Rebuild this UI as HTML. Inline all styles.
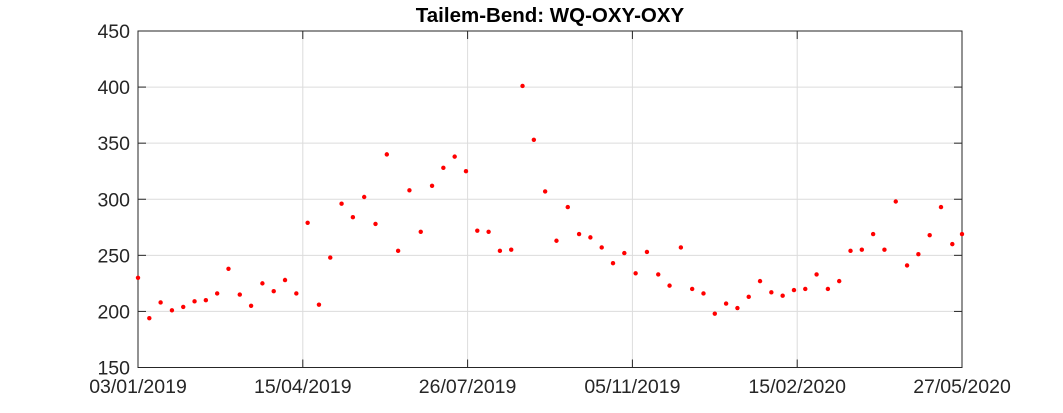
<!DOCTYPE html>
<html><head><meta charset="utf-8"><style>
body{margin:0;background:#fff;}
svg{display:block;font-family:"Liberation Sans",Arial,sans-serif;}
</style></head><body>
<svg id="chart" width="1063" height="413">
<rect x="0" y="0" width="1063" height="413" fill="#fff"/>
<text x="550" y="22" text-anchor="middle" font-size="20.5" font-weight="bold" fill="#000">Tailem-Bend: WQ-OXY-OXY</text>
<g id="grid"></g><g id="axes"></g><g id="points"></g>
</svg>
<script>
const xTickLabels=["03/01/2019","15/04/2019","26/07/2019","05/11/2019","15/02/2020","27/05/2020"];
const xTickDays=[0,102,204,306,408,510];
const yTicks=[150,200,250,300,350,400,450];
const dayOffsets=[0,7,14,21,28,35,42,49,56,63,70,77,84,91,98,105,112,119,126,133,140,147,154,161,168,175,182,189,196,203,210,217,224,231,238,245,252,259,266,273,280,287,294,301,308,315,322,329,336,343,350,357,364,371,378,385,392,399,406,413,420,427,434,441,448,455,462,469,476,483,490,497,504,510];
const values=[230,194,208,201,204,209,210,216,238,215,205,225,218,228,216,279,206,248,296,284,302,278,340,254,308,271,312,328,338,325,272,271,254,255,401,353,307,263,293,269,266,257,243,252,234,253,233,223,257,220,216,198,207,203,213,227,217,214,219,220,233,220,227,254,255,269,255,298,241,251,268,293,260,269];
const L=138,R=962,T=31,B=367.5;
const xs=d=>L+(d/510)*(R-L);
const ys=v=>B-(v-150)/300*(B-T);
const NS="http://www.w3.org/2000/svg";
const grid=document.getElementById('grid'),axes=document.getElementById('axes'),pts=document.getElementById('points');
function mk(tag,attrs,parent){const e=document.createElementNS(NS,tag);for(const k in attrs)e.setAttribute(k,attrs[k]);parent.appendChild(e);return e;}
yTicks.forEach(v=>{
  const y=ys(v);
  if(v>150&&v<450){const g=mk('line',{x1:L,x2:R,y1:y,y2:y,stroke:'#dcdcdc','stroke-width':1},grid);
  
  }
  mk('line',{x1:L,x2:L+8,y1:y,y2:y,stroke:'#262626'},axes);
  mk('line',{x1:R-8,x2:R,y1:y,y2:y,stroke:'#262626'},axes);
  const t=mk('text',{x:L-8,y:y+7,'text-anchor':'end','font-size':19.5,fill:'#262626'},axes);
  t.textContent=v;
  
  
});
xTickDays.forEach((d,i)=>{
  const x=xs(d);
  if(i>0&&i<xTickDays.length-1){const g=mk('line',{x1:x,x2:x,y1:T,y2:B,stroke:'#dcdcdc'},grid);
  
  }
  mk('line',{x1:x,x2:x,y1:T,y2:T+8,stroke:'#262626'},axes);
  mk('line',{x1:x,x2:x,y1:B-8,y2:B,stroke:'#262626'},axes);
  const t=mk('text',{x:x,y:393,'text-anchor':'middle','font-size':19.5,fill:'#262626'},axes);
  t.textContent=xTickLabels[i];
  
  
});
const box=mk('rect',{x:L,y:T,width:R-L,height:B-T,fill:'none',stroke:'#262626','stroke-width':1},axes);


values.forEach((v,i)=>{
  const c=mk('circle',{cx:xs(dayOffsets[i]),cy:ys(v),r:2.2,fill:'#ff0000'},pts);
  
  
});
</script>
</body></html>
